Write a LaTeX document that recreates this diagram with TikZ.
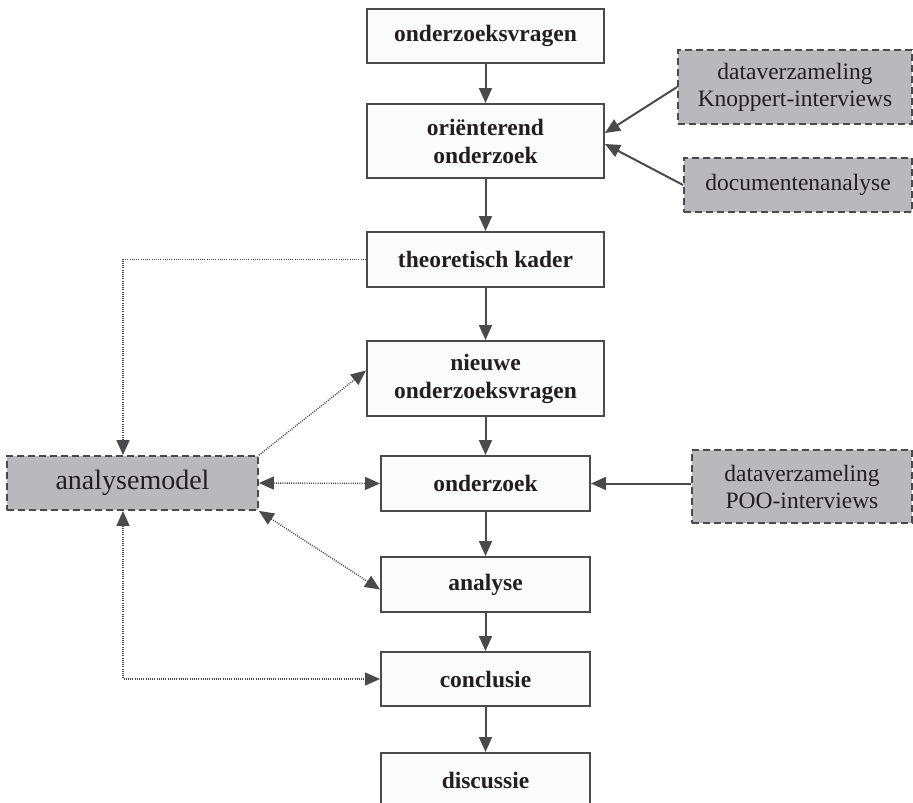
\documentclass[tikz,border=0pt]{standalone}
\usepackage{fontspec}
\setmainfont{Liberation Serif}
\usetikzlibrary{arrows.meta}
\definecolor{edge}{HTML}{4A4A4C}
\definecolor{boxfill}{HTML}{FBFBFB}
\definecolor{srcfill}{HTML}{B9B9BB}
\definecolor{ink}{HTML}{231F20}
\tikzset{
  stage/.style={draw=edge, line width=2pt, fill=boxfill, text=ink, align=center,
    inner sep=0pt, font=\fontsize{23.5}{28}\selectfont\bfseries},
  source/.style={draw=edge, line width=1.8pt, dash pattern=on 7pt off 4pt, fill=srcfill,
    text=ink, align=center, inner sep=0pt, font=\fontsize{23.5}{27}\selectfont},
  tip/.style={-{Triangle[length=15pt,width=13pt]}},
  flow/.style={draw=edge, line width=2pt, tip},
  link/.style={draw=edge, line width=1.4pt, dash pattern=on 1pt off 1.2pt,
    {Triangle[length=15pt,width=13pt]}-{Triangle[length=15pt,width=13pt]}},
  linkto/.style={draw=edge, line width=1.4pt, dash pattern=on 1pt off 1.2pt, tip},
}
\begin{document}
\begin{tikzpicture}[x=1pt,y=-1pt]
\useasboundingbox (0,0) rectangle (913,803);
\clip (0,0) rectangle (913,803);

% main research stages
\node[stage, minimum width=237pt, minimum height=54pt] (vragen) at (485.5,36) {onderzoeksvragen};
\node[stage, minimum width=237pt, minimum height=74pt] (orient) at (485.5,141) {oriënterend\\onderzoek};
\node[stage, minimum width=237pt, minimum height=55pt] (kader) at (485.5,259.5) {theoretisch kader};
\node[stage, minimum width=237pt, minimum height=75pt] (nieuw) at (485.5,378.5) {nieuwe\\onderzoeksvragen};
\node[stage, minimum width=209pt, minimum height=55pt] (onderzoek) at (485.5,483.5) {onderzoek};
\node[stage, minimum width=209pt, minimum height=55pt] (analyse) at (485.5,584.5) {analyse};
\node[stage, minimum width=209pt, minimum height=54pt] (conclusie) at (485.5,679) {conclusie};
\node[stage, minimum width=209pt, minimum height=55pt] (discussie) at (485.5,780.5) {discussie};

% data sources and analysis model
\node[source, minimum width=234pt, minimum height=74pt] (knoppert) at (795,87) {dataverzameling\\Knoppert-interviews};
\node[source, minimum width=228pt, minimum height=54pt] (docana) at (798,185) {documentenanalyse};
\node[source, minimum width=220pt, minimum height=73pt] (poo) at (802,486.5) {dataverzameling\\POO-interviews};
\node[source, minimum width=251pt, minimum height=54pt, font=\fontsize{28}{32}\selectfont] (model) at (132.5,483) {analysemodel};

% main flow
\draw[flow] (vragen) -- (orient);
\draw[flow] (orient) -- (kader);
\draw[flow] (kader) -- (nieuw);
\draw[flow] (nieuw) -- (onderzoek);
\draw[flow] (onderzoek) -- (analyse);
\draw[flow] (analyse) -- (conclusie);
\draw[flow] (conclusie) -- (discussie);

% inputs from the data sources
\draw[flow] (knoppert.west) -- ([yshift=8pt]orient.east);
\draw[flow] (docana.west) -- ([yshift=-3pt]orient.east);
\draw[flow] (poo.west |- onderzoek.east) -- (onderzoek.east);

% links with the analysis model
\draw[linkto] (kader.west) -| ([xshift=-9.5pt]model.north);
\draw[link] ([xshift=-9.5pt]model.south) |- (conclusie.west);
\draw[linkto] (model.north east) -- ([yshift=8pt]nieuw.west);
\draw[link] (model.east) -- (onderzoek.west);
\draw[link] (model.south east) -- ([yshift=-5pt]analyse.west);
\end{tikzpicture}
\end{document}
